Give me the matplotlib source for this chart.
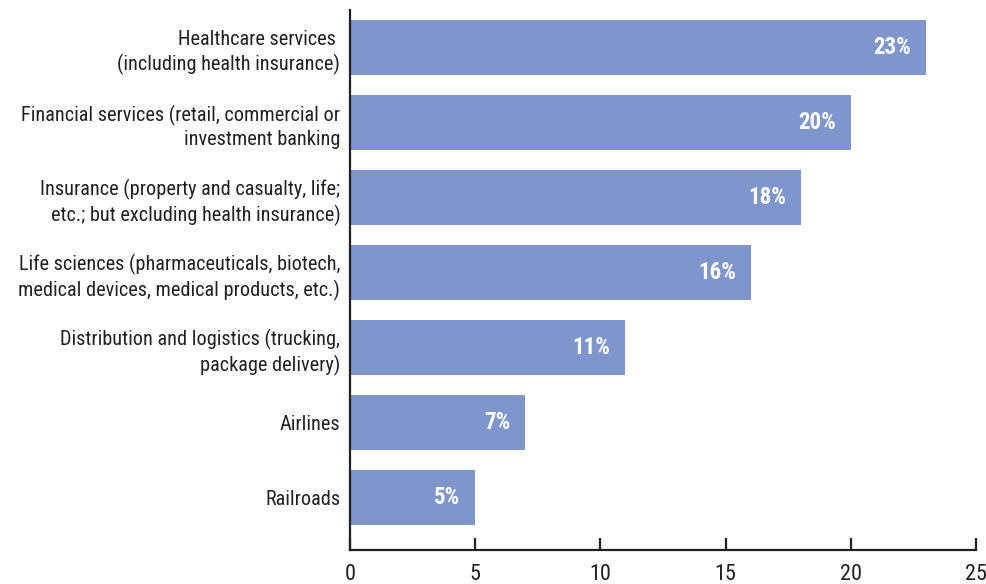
import matplotlib
matplotlib.use('Agg')

import matplotlib.pyplot as plt
from matplotlib import font_manager

sectors = [
    "Healthcare services \n(including health insurance)",
    "Financial services (retail, commercial or\ninvestment banking",
    "Insurance (property and casualty, life;\netc.; but excluding health insurance)",
    "Life sciences (pharmaceuticals, biotech,\nmedical devices, medical products, etc.)",
    "Distribution and logistics (trucking,\npackage delivery)",
    "Airlines",
    "Railroads",
]
shares = [23, 20, 18, 16, 11, 7, 5]
xticks = [0, 5, 10, 15, 20, 25]

BAR = '#7f96cc'
INK = '#231f20'


def have_font(name):
    try:
        font_manager.findfont(font_manager.FontProperties(family=name),
                              fallback_to_default=False)
        return True
    except ValueError:
        return False


# condensed face if there is one, otherwise Arial-like metrics at a smaller size
narrow = [f for f in ('Roboto Condensed', 'Liberation Sans Narrow',
                      'Open Sans Condensed') if have_font(f)]
if narrow:
    plt.rcParams['font.family'] = [narrow[0], 'DejaVu Sans']
    label_size, value_size, tick_size = 14.6, 16.5, 16
else:
    plt.rcParams['font.family'] = ['Liberation Sans', 'DejaVu Sans']
    label_size, value_size, tick_size = 12.5, 14, 14

fig = plt.figure(figsize=(9.87, 5.84), dpi=100)
ax = fig.add_axes([350 / 987, 34 / 584, 626 / 987, 540 / 584])

ypos = list(range(len(sectors) - 1, -1, -1))
ax.barh(ypos, shares, height=0.73, color=BAR)

for y, v in zip(ypos, shares):
    ax.text(v - 0.6, y, "{}%".format(v), ha='right', va='center',
            color='white', fontsize=value_size, fontweight='bold')

ax.set_xlim(0, 25)
ax.set_ylim(-0.7, 6.5)
ax.set_yticks(ypos)
ax.set_yticklabels(sectors, fontsize=label_size, color=INK, linespacing=1.3)
ax.set_xticks(xticks)
ax.set_xticklabels([str(t) for t in xticks], fontsize=tick_size, color=INK)

ax.tick_params(axis='y', length=0, pad=7)
ax.tick_params(axis='x', direction='in', length=9, width=1.6,
               color=INK, pad=10)
for side in ('top', 'right'):
    ax.spines[side].set_visible(False)
for side in ('left', 'bottom'):
    ax.spines[side].set_linewidth(1.6)
    ax.spines[side].set_color(INK)
for lab in ax.get_yticklabels():
    lab.set_multialignment('right')

fig.savefig('out.png', dpi=100)
